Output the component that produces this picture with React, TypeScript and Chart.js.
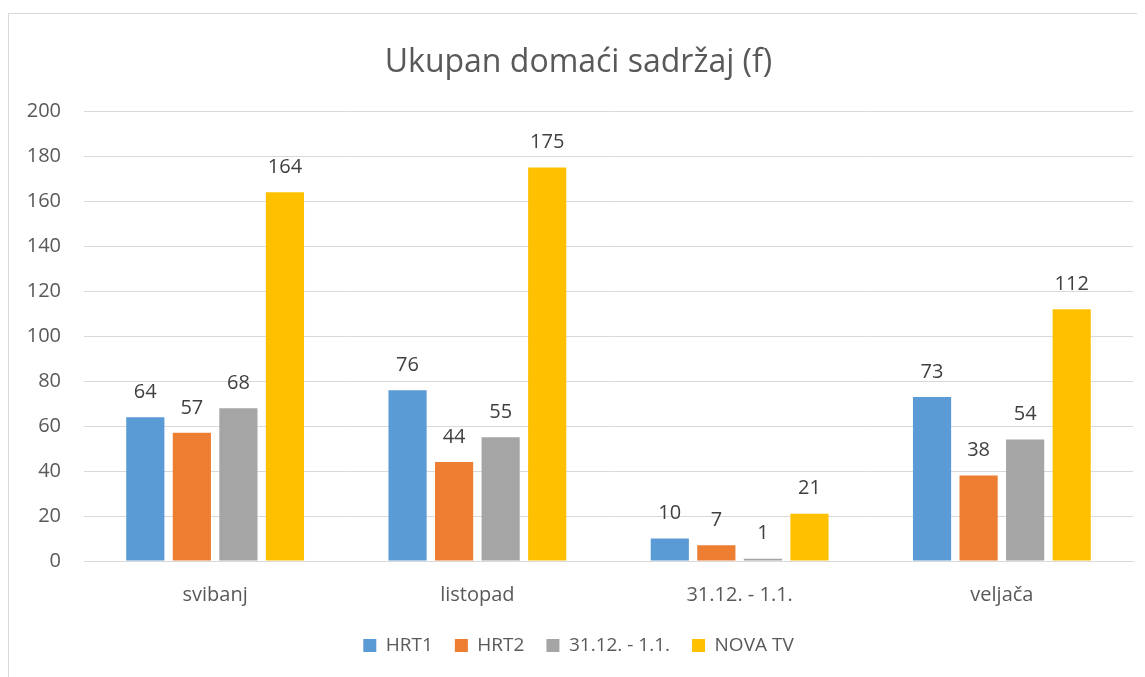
import React, { useEffect, useRef } from "react";
import { Chart, registerables } from "chart.js";
Chart.register(...registerables);

const categories = ["svibanj", "listopad", "31.12. - 1.1.", "veljača"];
const seriesNames = ["HRT1", "HRT2", "31.12. - 1.1.", "NOVA TV"];
const hrt1 = [64, 76, 10, 73];
const hrt2 = [57, 44, 7, 38];
const holiday = [68, 55, 1, 54];
const novaTv = [164, 175, 21, 112];
const colors = ["#5B9BD5", "#ED7D31", "#A5A5A5", "#FFC000"];
const titleText = "Ukupan domaći sadržaj (f)";

const FONT = "'Open Sans', 'Liberation Sans', sans-serif";

const labelPlugin = {
  id: "valueLabels",
  afterDatasetsDraw(chart: any) {
    const ctx = chart.ctx;
    ctx.save();
    ctx.font = `20px ${FONT}`;
    ctx.fillStyle = "#404040";
    ctx.textAlign = "center";
    ctx.textBaseline = "middle";
    chart.data.datasets.forEach((ds: any, i: number) => {
      const meta = chart.getDatasetMeta(i);
      meta.data.forEach((bar: any, j: number) => {
        ctx.fillText(String(ds.data[j]), bar.x, bar.y - 25);
      });
    });
    ctx.restore();
  },
};

export default function App() {
  const ref = useRef<HTMLCanvasElement | null>(null);
  useEffect(() => {
    if (!ref.current) return;
    const data = [hrt1, hrt2, holiday, novaTv];
    const chart = new Chart(ref.current, {
      type: "bar",
      data: {
        labels: categories,
        datasets: seriesNames.map((n, i) => ({
          label: n,
          data: data[i],
          backgroundColor: colors[i],
          categoryPercentage: 0.71,
          barPercentage: 0.82,
        })),
      },
      options: {
        animation: false,
        responsive: false,
        maintainAspectRatio: false,
        layout: { padding: { left: 15, right: 12, top: 10, bottom: 12 } },
        plugins: {
          title: {
            display: true,
            text: titleText,
            color: "#595959",
            font: { family: FONT, size: 32, weight: "normal" },
            padding: { top: 20, bottom: 29 },
          },
          legend: {
            position: "bottom",
            labels: {
              color: "#595959",
              font: { family: FONT, size: 19 },
              boxWidth: 13,
              boxHeight: 13,
              padding: 22,
            },
          },
          tooltip: { enabled: false },
        },
        scales: {
          x: {
            grid: { display: false },
            border: { color: "#D9D9D9" },
            afterFit: (s: any) => {
              s.height -= 7;
            },
            ticks: { color: "#595959", font: { family: FONT, size: 20 }, padding: 14 },
          },
          y: {
            min: 0,
            max: 200,
            afterFit: (s: any) => {
              s.width = 60;
            },
            ticks: { stepSize: 20, color: "#595959", font: { family: FONT, size: 20 }, padding: 23 },
            grid: { color: "#D9D9D9", drawTicks: false },
            border: { display: false },
          },
        },
      },
      plugins: [labelPlugin],
    });
    return () => chart.destroy();
  }, []);
  return (
    <div
      style={{
        marginTop: 5,
        width: 1137,
        height: 664,
        borderLeft: "1px solid #D9D9D9",
        borderTop: "1px solid #D9D9D9",
        boxSizing: "border-box",
        overflow: "hidden",
        background: "#fff",
      }}
    >
      <canvas ref={ref} width={1136} height={663} style={{ display: "block" }} />
    </div>
  );
}
